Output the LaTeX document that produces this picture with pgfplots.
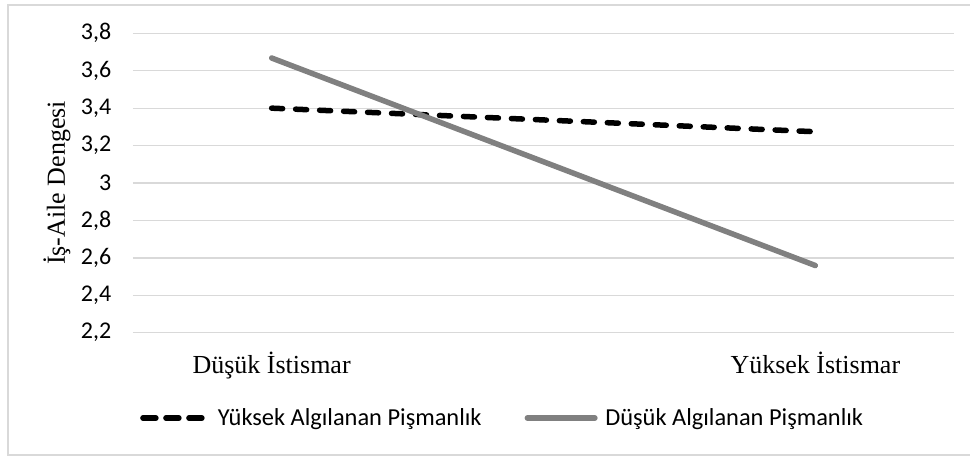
\documentclass[border=0pt]{standalone}
\usepackage{fontspec}
\setmainfont{Liberation Serif}
\newfontfamily\calibri{Carlito}
\usepackage{pgfplots}
\pgfplotsset{compat=1.18}
\definecolor{gridc}{HTML}{D9D9D9}
\definecolor{lgray}{HTML}{808080}
\begin{document}
\begin{tikzpicture}[x=1pt,y=1pt]
\useasboundingbox (-133pt,-123.3pt) rectangle (837pt,332.7pt);
\draw[gridc, line width=1.3pt] (-125pt,-122.3pt) rectangle (860pt,327.7pt);
\begin{axis}[
  at={(0pt,0pt)}, anchor=south west,
  scale only axis, width=821pt, height=299.4pt,
  xmin=-0.255, xmax=1.255,
  ymin=2.2, ymax=3.8,
  ytick={2.2,2.4,2.6,2.8,3.0,3.2,3.4,3.6,3.8},
  xtick={0,1},
  xticklabels={Düşük İstismar, Yüksek İstismar},
  axis line style={draw=none},
  major tick length=0pt,
  ymajorgrids, grid style={gridc, line width=1.3pt},
  /pgf/number format/.cd, use comma, fixed, precision=1, assume math mode=true,
  /pgfplots/.cd,
  yticklabel style={font=\calibri\fontsize{24}{28}\selectfont, anchor=east, inner sep=0pt, xshift=-21.5pt},
  xticklabel style={font=\fontsize{26}{30}\selectfont, anchor=base, inner sep=0pt, yshift=-40.3pt},
  ylabel={İş-Aile Dengesi},
  ylabel style={font=\fontsize{26}{30}\selectfont, at={(axis description cs:-0.0926,0.5)}, anchor=center, inner sep=0pt},
  legend columns=2,
  legend style={draw=none, fill=none, inner sep=0pt, at={(rel axis cs:0.0085,-0.285)}, anchor=west,
     font=\calibri\fontsize{24.4}{28}\selectfont,
     /tikz/every even column/.append style={column sep=43pt},
     nodes={inner sep=0pt}},
  legend cell align=left,
  clip=false,
]
\addplot[black, line width=5.5pt, line cap=round, dash pattern=on 11pt off 13pt,
  legend image code/.code={\draw[black, line width=5.5pt, line cap=round, dash pattern=on 13pt off 10pt] (2.75pt,0pt) -- (63pt,0pt); \path (75pt,0pt);}]
  coordinates {(0,3.40) (1,3.274)};
\addlegendentry{Yüksek Algılanan Pişmanlık}
\addplot[lgray, line width=5.5pt, line cap=round,
  legend image code/.code={\draw[lgray, line width=5.5pt, line cap=round] (2.75pt,0pt) -- (70.25pt,0pt); \path (78pt,0pt);}]
  coordinates {(0,3.668) (1,2.559)};
\addlegendentry{Düşük Algılanan Pişmanlık}
\end{axis}
\end{tikzpicture}
\end{document}
